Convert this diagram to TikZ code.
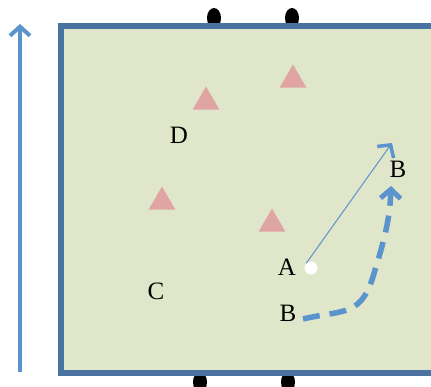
\documentclass[tikz,border=0pt]{standalone}
\usepackage{fontspec}
\setmainfont{Liberation Serif}
\usetikzlibrary{arrows.meta,shapes.geometric}
\definecolor{fieldgreen}{HTML}{DFE6CA}
\definecolor{fieldedge}{HTML}{4A72A0}
\definecolor{arrowblue}{HTML}{5B93CD}
\definecolor{conepink}{HTML}{E0A4A3}
\tikzset{
  cone/.style={regular polygon,regular polygon sides=3,fill=conepink,inner sep=0pt,minimum size=31pt},
  post/.style={ellipse,fill=black,minimum width=14pt,minimum height=20pt,inner sep=0pt},
  lbl/.style={font=\fontsize{25}{28}\selectfont,inner sep=0pt,text=black},
}
\begin{document}
\begin{tikzpicture}[x=1pt,y=-1pt]
\useasboundingbox (0,0) rectangle (431,387);
% posts behind field edge
\node[post] (p1) at (214,18) {};
\node[post] (p2) at (292,18) {};
\node[post] (p3) at (200,382) {};
\node[post] (p4) at (288,382) {};
% field
\draw[fieldedge,line width=5.5pt,fill=fieldgreen] (440,26) -- (61,26) -- (61,373) -- (440,373);
% left arrow
\coordinate (la0) at (20,372);
\coordinate (la1) at (20,24);
\draw[arrowblue,line width=4pt,-{Straight Barb[length=9pt,width=20pt,line width=4pt]}] (la0) -- (la1);
% cones
\node[cone] (c1) at (206,102) {};
\node[cone] (c2) at (293,80) {};
\node[cone] (c3) at (162,202) {};
\node[cone] (c4) at (272,224) {};
% labels
\node[lbl] (D) at (179,135) {D};
\node[lbl] (C) at (156,291) {C};
\node[lbl] (A) at (287,267) {A};
\node[lbl] (B1) at (398,169) {B};
\node[lbl] (B2) at (288,313) {B};
% ball
\node[circle,fill=white,minimum size=13pt,inner sep=0pt] (ball) at (311,268) {};
% pass
\coordinate (passend) at (392,143);
\draw[arrowblue,line width=1pt,-{Straight Barb[length=9pt,width=20pt,line width=3.5pt]}] (ball.north west) -- (passend);
% run
\coordinate (runstart) at (303,319);
\coordinate (runend) at (391,186);
\draw[arrowblue,line width=5.5pt,dash pattern=on 17pt off 10pt,-{Straight Barb[length=9pt,width=20pt,line width=5pt]}]
  (runstart) .. controls (345,309) and (362,318) .. (375,270) .. controls (386,235) and (390,215) .. (runend);
\end{tikzpicture}
\end{document}
